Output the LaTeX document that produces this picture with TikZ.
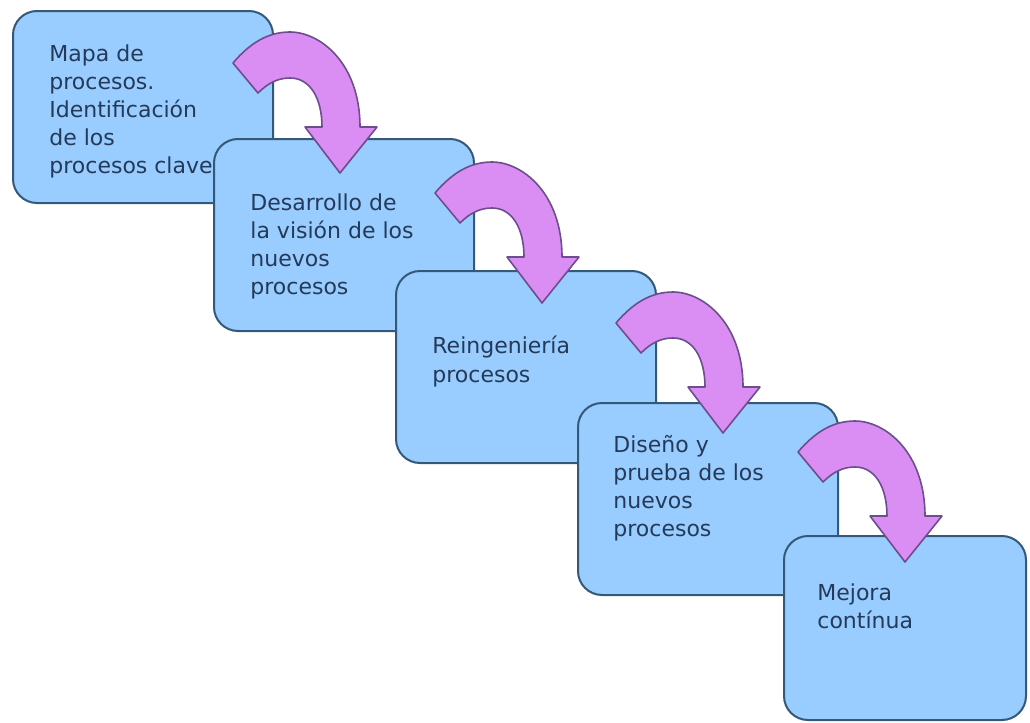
\documentclass[tikz,border=0pt]{standalone}
\usepackage{fontspec}
\setmainfont{DejaVu Sans}

\definecolor{boxfill}{RGB}{153,204,255}
\definecolor{boxline}{RGB}{52,88,120}
\definecolor{arrowfill}{RGB}{218,142,244}
\definecolor{arrowline}{RGB}{108,78,140}
\definecolor{textblue}{RGB}{36,58,88}

% curved block arrow, given by the point of its tip
\newcommand{\turnarrow}[1]{%
\draw[turnstyle, shift={(#1)}] (-107,-110) .. controls (-90,-130) and (-72,-141) .. (-50,-141)
  .. controls (-20,-141) and (20,-110) .. (20,-46) -- (37,-46) -- (0,0) -- (-35,-46) -- (-18,-46)
  .. controls (-18,-75) and (-30,-95) .. (-50,-95)
  .. controls (-62,-95) and (-72,-90) .. (-82,-80) -- cycle;}

\begin{document}
\begin{tikzpicture}
[
x=0.5pt, y=-0.5pt,
stepbox/.style={draw=boxline, fill=boxfill, line width=1pt, rounded corners=12pt,
  anchor=north west, inner sep=0pt, minimum width=130pt, minimum height=96pt},
steptext/.style={anchor=north west, inner sep=0pt, align=left, text=textblue,
  font=\fontsize{11pt}{14pt}\selectfont},
turnstyle/.style={draw=arrowline, fill=arrowfill, line width=0.8pt, line join=round}
]
\useasboundingbox (0,0) rectangle (1030,723);

\coordinate (tip1) at (340,173);
\coordinate (tip2) at (542,303);
\coordinate (tip3) at (723,433);
\coordinate (tip4) at (905,562);

\node[stepbox] (mapa) at (12,10) {};
\node[steptext] (mapatext) at (49,44) {Mapa de\\procesos.\\Identificación\\de los\\procesos clave};

\node[stepbox] (vision) at (213,138) {};
\node[steptext] (visiontext) at (250,193) {Desarrollo de\\la visión de los\\nuevos\\procesos};
\turnarrow{tip1}

\node[stepbox] (reing) at (395,270) {};
\node[steptext] (reingtext) at (432,336) {Reingeniería\\procesos};
\turnarrow{tip2}

\node[stepbox] (diseno) at (577,402) {};
\node[steptext] (disenotext) at (613,435) {Diseño y\\prueba de los\\nuevos\\procesos};
\turnarrow{tip3}

\node[stepbox, minimum width=121pt, minimum height=92pt] (mejora) at (783,535) {};
\node[steptext] (mejoratext) at (817,583) {Mejora\\contínua};
\turnarrow{tip4}
\end{tikzpicture}
\end{document}
